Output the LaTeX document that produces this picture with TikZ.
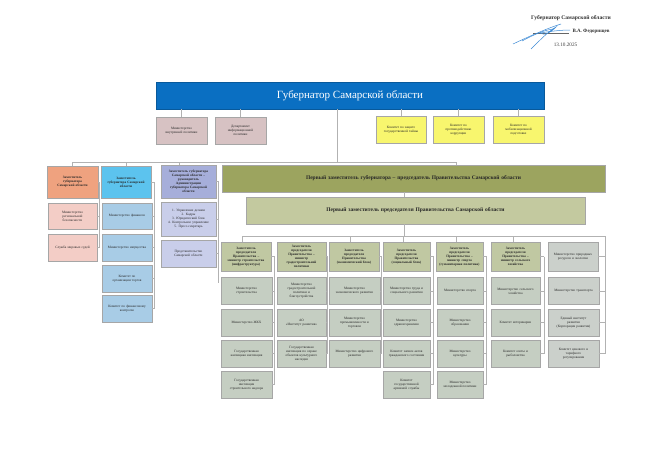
\documentclass[tikz,border=0pt]{standalone}
\usepackage{fontspec}
\setmainfont{Liberation Serif}
\definecolor{govblue}{HTML}{0A6FC2}
\definecolor{pinkgrey}{HTML}{D7C2C3}
\definecolor{yel}{HTML}{F8F66E}
\definecolor{orng}{HTML}{EFA27F}
\definecolor{cyanb}{HTML}{5CC3EE}
\definecolor{lav}{HTML}{A6AEDA}
\definecolor{pinkl}{HTML}{F3CDC6}
\definecolor{bluel}{HTML}{A8CCE6}
\definecolor{lavl}{HTML}{C9CEEA}
\definecolor{olive}{HTML}{9CA45F}
\definecolor{olivel}{HTML}{C3C99F}
\definecolor{sage}{HTML}{C0C8A2}
\definecolor{greyg}{HTML}{C5CEC2}
\definecolor{greyc}{HTML}{CBD0CB}
\definecolor{sigblue}{HTML}{3D8BD6}
\newcommand\bx[7]{%
  \pgfmathsetmacro\tw{#4-3}%
  \node[box,minimum width=#4pt,minimum height=#5pt,text width=\tw pt,#6] (#1) at (#2,#3) {#7};}
\newcommand\sidecol[4]{% x-coordinate name, top node, list of nodes, last node
  \draw[conn] (#2.east) -- (#2.east -| #1);
  \foreach \nn in {#3}{\draw[conn] (\nn.east) -- (\nn.east -| #1);}
  \draw[conn] (#2.east -| #1) -- (#4.east -| #1);}
\begin{document}
\begin{tikzpicture}[x=1pt,y=-1pt,
  box/.style={draw=black!35,line width=0.3pt,rectangle,inner sep=0.5pt,align=center,
    font=\fontsize{3.4}{4.0}\selectfont,text=black!85},
  hdr/.style={font=\fontsize{3.4}{4.0}\selectfont\bfseries},
  barf/.style={font=\fontsize{5.5}{6.5}\selectfont\bfseries,text=black!85},
  conn/.style={draw=black!30,line width=0.35pt},
  sig/.style={draw=sigblue,line width=0.5pt}]
\useasboundingbox[fill=white] (0,0) rectangle (656,464);

% signature block
\node[font=\fontsize{5.6}{6.5}\selectfont\bfseries,text=black!80] (s1) at (571,18) {Губернатор Самарской области};
\node[font=\fontsize{5}{6}\selectfont\bfseries,text=black!80] (s2) at (591,31) {В.А. Федорищев};
\node[font=\fontsize{5.2}{6}\selectfont,text=black!75] (s3) at (565.5,45) {13.10.2025};
\coordinate (sl) at (533,33);
\draw[black!60,line width=0.3pt] (sl) -- (sl -| s2.west);
\draw[sig] (513,44) .. controls (530,36) and (548,28) .. (561,24);
\draw[sig] (531,49) .. controls (540,40) and (550,30) .. (556,27) .. controls (550,33) and (545,36) .. (540,33);
\draw[sig] (540,33) .. controls (552,31) and (562,30) .. (570,30);
\draw[sig] (522,41) .. controls (535,34) and (545,30) .. (553,29);

% governor
\node[box,fill=govblue,draw=govblue!80!black,minimum width=388pt,minimum height=27pt,
  font=\fontsize{11}{13}\selectfont,text=white] (gov) at (350,95.5) {Губернатор Самарской области};

\bx{vp}{181.5}{130.5}{51}{27}{fill=pinkgrey}{Министерство\\внутренней политики}
\bx{ip}{240.5}{130.5}{51}{27}{fill=pinkgrey}{Департамент\\информационной\\политики}
\bx{ya}{401}{129.5}{50}{27}{fill=yel}{Комитет по защите\\государственной тайны}
\bx{yb}{458.5}{129.5}{51}{27}{fill=yel}{Комитет по\\противодействию\\коррупции}
\bx{yc}{518.5}{129.5}{51}{27}{fill=yel}{Комитет по\\мобилизационной\\подготовке}
\foreach \n in {vp,ip,ya,yb,yc}{\draw[conn] (\n.north) -- (\n.north |- gov.south);}

% left deputies
\bx{dA}{72.5}{182}{51}{32}{fill=orng,hdr}{Заместитель\\губернатора\\Самарской области}
\bx{dB}{126}{182}{50}{32}{fill=cyanb,hdr}{Заместитель\\губернатора Самарской\\области}
\bx{dC}{188.5}{181.5}{55}{33}{fill=lav,hdr}{Заместитель губернатора\\Самарской области~--\\руководитель\\Администрации\\губернатора Самарской\\области}

\bx{pA1}{72.5}{216}{49}{26}{fill=pinkl}{Министерство\\региональной\\безопасности}
\bx{pA2}{72.5}{247.5}{49}{27}{fill=pinkl}{Служба мировых судей}
\bx{bB1}{127}{216}{50}{26}{fill=bluel}{Министерство финансов}
\bx{bB2}{127}{247.5}{50}{27}{fill=bluel}{Министерство имущества}
\bx{bB3}{127}{278.5}{50}{27}{fill=bluel}{Комитет по\\организации торгов}
\bx{bB4}{127}{308.5}{50}{27}{fill=bluel}{Комитет по финансовому\\контролю}
\bx{lC1}{188.5}{219}{55}{34}{fill=lavl}{1. Управление делами\\2. Кадры\\3. Юридический блок\\4. Контрольное управление\\5. Пресс-секретарь}
\bx{lC2}{188.5}{253.5}{55}{27}{fill=lavl}{Представительство\\Самарской области}

% first deputies
\bx{bar1}{413.5}{178.5}{383}{27}{fill=olive,barf}{Первый заместитель губернатора~-- председатель Правительства Самарской области}
\bx{bar2}{415.5}{210.5}{339}{27}{fill=olivel,barf}{Первый заместитель председателя Правительства Самарской области}

% trunk and upper bus
\coordinate (tr) at (337,162);
\coordinate (bl) at (72,162);
\coordinate (br) at (456,162);
\coordinate (dcx) at (179,162);
\draw[conn] (gov.south -| tr) -- (tr);
\draw[conn] (bl) -- (br);
\draw[conn] (dA.north) -- (dA.north |- bl);
\draw[conn] (dB.north) -- (dB.north |- bl);
\draw[conn] (dcx) -- (dcx |- dC.north);
\draw[conn] (br) -- (br |- bar1.north);

% left column side lines
\coordinate (xA) at (99.5,0);
\coordinate (xB) at (154,0);
\coordinate (xC) at (218.5,0);
\coordinate (xCend) at (218.5,283);
\sidecol{xA}{dA}{pA1,pA2}{pA2}
\sidecol{xB}{dB}{bB1,bB2,bB3,bB4}{bB4}
\sidecol{xC}{dC}{lC1,lC2}{lC2}
\draw[conn] (lC2.east -| xC) -- (xCend);

% bar connections and lower bus
\coordinate (kx) at (404,0);
\coordinate (busL) at (242,236);
\coordinate (busR) at (605,236);
\draw[conn] (bar1.south -| kx) -- (bar2.north -| kx);
\draw[conn] (bar2.south -| kx) -- (kx |- busL);
\draw[conn] (busL) -- (busR);

% column headers
\bx{h1}{246}{256.5}{50}{29}{fill=sage,hdr}{Заместитель\\председателя\\Правительства~--\\министр строительства\\(инфраструктура)}
\bx{h2}{301.5}{256.5}{49}{29}{fill=sage,hdr}{Заместитель\\председателя\\Правительства~--\\министр\\градостроительной\\политики}
\bx{h3}{354}{256.5}{50}{29}{fill=sage,hdr}{Заместитель\\председателя\\Правительства\\(экономический блок)}
\bx{h4}{406.5}{256.5}{47}{29}{fill=sage,hdr}{Заместитель\\председателя\\Правительства\\(социальный блок)}
\bx{h5}{459.5}{256.5}{47}{29}{fill=sage,hdr}{Заместитель\\председателя\\Правительства~--\\министр спорта\\(гуманитарная политика)}
\bx{h6}{515.5}{256.5}{49}{29}{fill=sage,hdr}{Заместитель\\председателя\\Правительства~--\\министр сельского\\хозяйства}
\bx{g0}{573}{256.5}{50}{29}{fill=greyc}{Министерство природных\\ресурсов и экологии}

\coordinate (d1) at (242,236);
\coordinate (d3) at (350,236);
\coordinate (d4) at (403,236);
\coordinate (d5) at (456,236);
\coordinate (d6) at (513,236);
\draw[conn] (d1) -- (d1 |- h1.north);
\draw[conn] (d3) -- (d3 |- h3.north);
\draw[conn] (d4) -- (d4 |- h4.north);
\draw[conn] (d5) -- (d5 |- h5.north);
\draw[conn] (d6) -- (d6 |- h6.north);

% column 1
\bx{a1}{246.5}{291}{51}{27}{fill=greyg}{Министерство\\строительства}
\bx{a2}{246.5}{322.5}{51}{27}{fill=greyg}{Министерство ЖКХ}
\bx{a3}{246.5}{353.5}{51}{27}{fill=greyg}{Государственная\\жилищная инспекция}
\bx{a4}{246.5}{384.5}{51}{27}{fill=greyg}{Государственная\\инспекция\\строительного надзора}
% column 2
\bx{b1}{301.5}{291}{49}{27}{fill=greyg}{Министерство\\градостроительной\\политики и\\благоустройства}
\bx{b2}{301.5}{322.5}{49}{27}{fill=greyg}{АО\\«Институт развития»}
\bx{b3}{301.5}{353.5}{49}{27}{fill=greyg}{Государственная\\инспекция по охране\\объектов культурного\\наследия}
% column 3
\bx{c1}{354.5}{291}{51}{27}{fill=greyg}{Министерство\\экономического развития}
\bx{c2}{354.5}{322.5}{51}{27}{fill=greyg}{Министерство\\промышленности и\\торговли}
\bx{c3}{354.5}{353.5}{51}{27}{fill=greyg}{Министерство цифрового\\развития}
% column 4
\bx{e1}{406.5}{291}{47}{27}{fill=greyg}{Министерство труда и\\социального развития}
\bx{e2}{406.5}{322.5}{47}{27}{fill=greyg}{Министерство\\здравоохранения}
\bx{e3}{406.5}{353.5}{47}{27}{fill=greyg}{Комитет записи актов\\гражданского состояния}
\bx{e4}{406.5}{384.5}{47}{27}{fill=greyg}{Комитет\\государственной\\архивной службы}
% column 5
\bx{f1}{460}{291}{46}{27}{fill=greyg}{Министерство спорта}
\bx{f2}{460}{322.5}{46}{27}{fill=greyg}{Министерство\\образования}
\bx{f3}{460}{353.5}{46}{27}{fill=greyg}{Министерство\\культуры}
\bx{f4}{460}{384.5}{46}{27}{fill=greyg}{Министерство\\молодежной политики}
% column 6
\bx{k1}{515.5}{291}{49}{27}{fill=greyg}{Министерство сельского\\хозяйства}
\bx{k2}{515.5}{322.5}{49}{27}{fill=greyg}{Комитет ветеринарии}
\bx{k3}{515.5}{353.5}{49}{27}{fill=greyg}{Комитет охоты и\\рыболовства}
% column 7
\bx{g1}{573.5}{291}{51}{27}{fill=greyc}{Министерство транспорта}
\bx{g2}{573.5}{322.5}{51}{27}{fill=greyc}{Единый институт\\развития\\(Корпорация развития)}
\bx{g3}{573.5}{353.5}{51}{27}{fill=greyc}{Комитет ценового и\\тарифного\\регулирования}

% column side lines
\coordinate (x1) at (274.5,0);
\coordinate (x2) at (327.5,0);
\coordinate (x3) at (381.5,0);
\coordinate (x4) at (433.5,0);
\coordinate (x5) at (486.5,0);
\coordinate (x6) at (544,0);
\sidecol{x1}{h1}{a1,a2,a3,a4}{a4}
\sidecol{x2}{h2}{b1,b2,b3}{b3}
\sidecol{x3}{h3}{c1,c2,c3}{c3}
\sidecol{x4}{h4}{e1,e2,e3,e4}{e4}
\sidecol{x5}{h5}{f1,f2,f3,f4}{f4}
\sidecol{x6}{h6}{k1,k2,k3}{k3}
\foreach \n in {g0,g1,g2,g3}{\draw[conn] (\n.east) -- (\n.east -| busR);}
\draw[conn] (busR) -- (busR |- g3.east);
\end{tikzpicture}
\end{document}
